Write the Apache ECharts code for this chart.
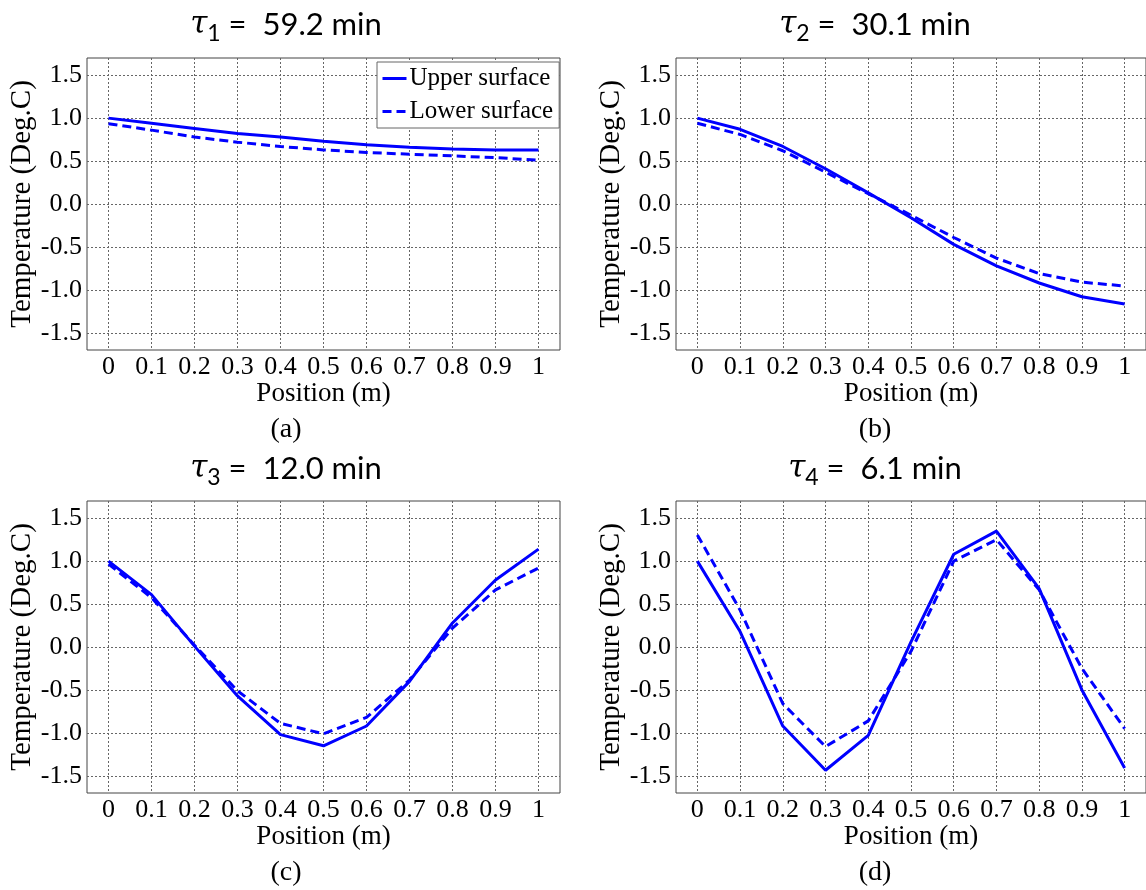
<!DOCTYPE html>
<html>
<head>
<meta charset="utf-8">
<script src="https://cdn.jsdelivr.net/npm/echarts@6/dist/echarts.min.js"></script>
<style>html,body{margin:0;padding:0;background:#fff}#chart{width:1146px;height:890px}</style>
</head>
<body>
<div id="chart"></div>
<script>
// ---- data ----
const positions = [0, 0.1, 0.2, 0.3, 0.4, 0.5, 0.6, 0.7, 0.8, 0.9, 1];
const xTicks = [0, 0.1, 0.2, 0.3, 0.4, 0.5, 0.6, 0.7, 0.8, 0.9, 1];
const yTicks = [-1.5, -1.0, -0.5, 0, 0.5, 1.0, 1.5];
const seriesNames = ['Upper surface', 'Lower surface'];
const panelTitles = ['1', '2', '3', '4'];
const panelTimes = ['59.2 min', '30.1 min', '12.0 min', '6.1 min'];
const panelLetters = ['(a)', '(b)', '(c)', '(d)'];

const upperA = [1.00, 0.94, 0.88, 0.82, 0.78, 0.73, 0.69, 0.66, 0.64, 0.63, 0.63];
const lowerA = [0.935, 0.86, 0.78, 0.72, 0.67, 0.63, 0.60, 0.58, 0.56, 0.54, 0.51];
const upperB = [1.00, 0.87, 0.67, 0.41, 0.13, -0.16, -0.47, -0.72, -0.92, -1.08, -1.165];
const lowerB = [0.94, 0.81, 0.62, 0.37, 0.12, -0.13, -0.39, -0.63, -0.81, -0.91, -0.955];
const upperC = [1.00, 0.61, 0.01, -0.57, -1.02, -1.15, -0.92, -0.40, 0.28, 0.78, 1.14];
const lowerC = [0.965, 0.575, 0.02, -0.51, -0.89, -1.01, -0.82, -0.385, 0.22, 0.665, 0.92];
const upperD = [1.00, 0.18, -0.92, -1.435, -1.03, 0.06, 1.08, 1.35, 0.68, -0.50, -1.41];
const lowerD = [1.305, 0.43, -0.66, -1.16, -0.86, -0.05, 1.00, 1.25, 0.665, -0.25, -0.95];

const panels = [[upperA, lowerA], [upperB, lowerB], [upperC, lowerC], [upperD, lowerD]];

// ---- layout ----
const grids = [
  {left: 87, top: 58, width: 473, height: 292},
  {left: 676, top: 58, width: 474, height: 292},
  {left: 87, top: 501, width: 473, height: 292},
  {left: 676, top: 501, width: 474, height: 292}
];
const titlePos = [[286, 25], [875, 25], [286, 469], [875, 469]];
const letterPos = [[286, 430], [875, 430], [286, 873], [875, 873]];

const serif = 'Liberation Serif';
const blue = '#0000ff';

const xAxes = [], yAxes = [], series = [], graphics = [];
grids.forEach((g, i) => {
  xAxes.push({
    type: 'value', gridIndex: i, min: -0.05, max: 1.05,
    name: 'Position (m)', nameLocation: 'middle', nameGap: 30,
    nameTextStyle: {fontFamily: serif, fontSize: 27, color: '#000'},
    axisLine: {show: false},
    axisTick: {show: false, customValues: xTicks},
    axisLabel: {customValues: xTicks, fontFamily: serif, fontSize: 26, color: '#000', margin: 4,
      formatter: v => String(Math.round(v * 10) / 10)},
    splitLine: {show: true, lineStyle: {color: '#666', type: [2, 2], width: 1}}
  });
  yAxes.push({
    type: 'value', gridIndex: i, min: -1.7, max: 1.7,
    name: 'Temperature (Deg.C)', nameLocation: 'middle', nameGap: 49,
    nameTextStyle: {fontFamily: serif, fontSize: 29, color: '#000'},
    axisLine: {show: false},
    axisTick: {show: false, customValues: yTicks},
    axisLabel: {customValues: yTicks, fontFamily: serif, fontSize: 26, color: '#000', margin: 5,
      formatter: v => v.toFixed(1)},
    splitLine: {show: true, lineStyle: {color: '#666', type: [2, 2], width: 1}}
  });
  panels[i].forEach((vals, k) => {
    series.push({
      type: 'line', name: seriesNames[k], xAxisIndex: i, yAxisIndex: i,
      symbol: 'none', showSymbol: false, silent: true, animation: false,
      lineStyle: {color: blue, width: 3, type: k === 0 ? 'solid' : [9, 5]},
      itemStyle: {color: blue},
      data: positions.map((p, j) => [p, vals[j]])
    });
  });
  graphics.push({
    type: 'text', x: titlePos[i][0], y: titlePos[i][1],
    style: {
      text: '{t|τ}{s|' + panelTitles[i] + '}{n| =  ' + panelTimes[i] + '}',
      textAlign: 'center', textVerticalAlign: 'middle', align: 'center', verticalAlign: 'middle',
      rich: {
        t: {fontFamily: 'DejaVu Serif', fontStyle: 'italic', fontSize: 31, lineHeight: 40, verticalAlign: 'middle', fill: '#000', color: '#000'},
        s: {fontFamily: 'Lato', fontSize: 23, lineHeight: 22, verticalAlign: 'bottom', fill: '#000', color: '#000'},
        n: {fontFamily: 'Lato', fontSize: 31, lineHeight: 40, verticalAlign: 'middle', fill: '#000', color: '#000'}
      }
    }
  });
  graphics.push({
    type: 'text', x: letterPos[i][0], y: letterPos[i][1],
    style: {text: panelLetters[i], font: '28px "Liberation Serif"', fill: '#000',
      textAlign: 'center', textVerticalAlign: 'middle', align: 'center', verticalAlign: 'middle'}
  });
});

const chart = echarts.init(document.getElementById('chart'), null, {renderer: 'canvas'});
chart.setOption({
  backgroundColor: '#fff',
  animation: false,
  grid: grids.map(g => Object.assign({show: true, borderColor: '#444', borderWidth: 1, backgroundColor: 'transparent'}, g)),
  xAxis: xAxes,
  yAxis: yAxes,
  legend: {
    data: seriesNames, left: 377, top: 62, orient: 'vertical',
    backgroundColor: '#fff', borderColor: '#666', borderWidth: 1,
    padding: [4, 6, 4, 4], itemGap: 8, itemWidth: 24, itemHeight: 14,
    itemStyle: {opacity: 0},
    lineStyle: {width: 3},
    textStyle: {fontFamily: serif, fontSize: 25, color: '#000', padding: [0, 0, 0, -2]}
  },
  series: series,
  graphic: graphics
});
</script>
</body>
</html>
